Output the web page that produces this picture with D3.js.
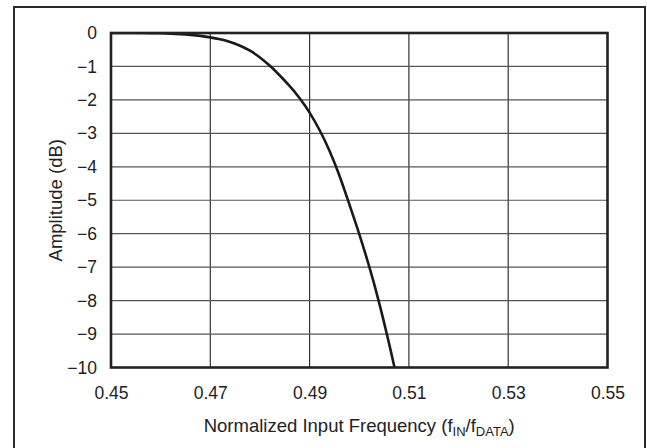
<!DOCTYPE html>
<html>
<head>
<meta charset="utf-8">
<script src="https://cdn.jsdelivr.net/npm/d3@7"></script>
<style>
  body { margin: 0; background: #fff; }
  svg { display: block; }
  text { font-family: "Liberation Sans", Arial, sans-serif; fill: #222; }
</style>
</head>
<body>
<div id="data-viz"></div>
<script>

// values
var freq = [0.450, 0.452, 0.454, 0.456, 0.458, 0.460, 0.462, 0.464, 0.466, 0.468, 0.470, 0.472, 0.474, 0.476, 0.478, 0.480, 0.482, 0.484, 0.486, 0.488, 0.490, 0.492, 0.494, 0.496, 0.498, 0.500, 0.502, 0.504, 0.506, 0.5071]
var amplitude = [0, 0, 0, -0.001, -0.004, -0.009, -0.018, -0.033, -0.055, -0.085, -0.13, -0.19, -0.27, -0.38, -0.53, -0.73, -0.98, -1.27, -1.59, -1.95, -2.38, -2.90, -3.52, -4.26, -5.12, -6.01, -6.98, -8.06, -9.28, -10.0]
var xTicks = [0.45, 0.47, 0.49, 0.51, 0.53, 0.55]
var yTicks = [0, -1, -2, -3, -4, -5, -6, -7, -8, -9, -10]

var width = 647, height = 448
var margin = { top: 33, right: 39, bottom: 80, left: 111 }

var svg = d3.select("#data-viz").append("svg")
	.attr("width", width)
	.attr("height", height)

// outer frame
svg.append("rect")
	.attr("x", 14).attr("y", 7)
	.attr("width", 631).attr("height", 460)
	.attr("fill", "none")
	.attr("stroke", "#2a2a2a")
	.attr("stroke-width", 2)

var x = d3.scaleLinear().domain([0.45, 0.55]).range([margin.left, width - margin.right - 0.5])
var y = d3.scaleLinear().domain([0, -10]).range([margin.top, height - margin.bottom - 0.5])

// grid
svg.append("g").selectAll("line").data(xTicks.slice(1, -1)).join("line")
	.attr("x1", d => x(d)).attr("x2", d => x(d))
	.attr("y1", y(0)).attr("y2", y(-10))
	.attr("stroke", "#333").attr("stroke-width", 1.2)

svg.append("g").selectAll("line").data(yTicks.slice(1, -1)).join("line")
	.attr("x1", x(0.45)).attr("x2", x(0.55))
	.attr("y1", d => y(d)).attr("y2", d => y(d))
	.attr("stroke", "#555").attr("stroke-width", 1.2)

// axes (labels only)
var xAxis = svg.append("g")
	.attr("transform", `translate(0,${y(-10)})`)
	.call(d3.axisBottom(x).tickValues(xTicks).tickFormat(d3.format(".2f")).tickSize(0).tickPadding(19))
xAxis.select(".domain").remove()

var yAxis = svg.append("g")
	.attr("transform", `translate(${x(0.45)},0)`)
	.call(d3.axisLeft(y).tickValues(yTicks).tickFormat(d3.format("d")).tickSize(0).tickPadding(14))
yAxis.select(".domain").remove()

svg.selectAll(".tick text")
	.style("font-size", "17.5px")
	.style("font-family", "'Liberation Sans', Arial, sans-serif")
	.attr("fill", "#222")

// curve, clipped to the plot so the spline can't poke above 0 dB
svg.append("clipPath").attr("id", "plot-clip")
	.append("rect")
	.attr("x", x(0.45)).attr("y", y(0))
	.attr("width", x(0.55) - x(0.45)).attr("height", y(-10) - y(0))

var line = d3.line()
	.x((d, i) => x(freq[i]))
	.y(d => y(d))
	.curve(d3.curveNatural)

svg.append("path")
	.datum(amplitude)
	.attr("d", line)
	.attr("clip-path", "url(#plot-clip)")
	.attr("fill", "none")
	.attr("stroke", "#1a1a1a")
	.attr("stroke-width", 2.6)

// plot frame
svg.append("rect")
	.attr("x", x(0.45)).attr("y", y(0))
	.attr("width", x(0.55) - x(0.45)).attr("height", y(-10) - y(0))
	.attr("fill", "none")
	.attr("stroke", "#222")
	.attr("stroke-width", 2.6)

// titles
var xt = svg.append("text")
	.attr("x", (x(0.45) + x(0.55)) / 2)
	.attr("y", 431.5)
	.attr("text-anchor", "middle")
	.style("font-size", "18.5px")
xt.append("tspan").text("Normalized Input Frequency (f")
xt.append("tspan").text("IN").attr("baseline-shift", "-30%").style("font-size", "13px")
xt.append("tspan").text("/f")
xt.append("tspan").text("DATA").attr("baseline-shift", "-30%").style("font-size", "13px")
xt.append("tspan").text(")")

svg.append("text")
	.attr("transform", `translate(62,${(y(0) + y(-10)) / 2}) rotate(-90)`)
	.attr("text-anchor", "middle")
	.style("font-size", "18.5px")
	.text("Amplitude (dB)")

</script>
</body>
</html>
